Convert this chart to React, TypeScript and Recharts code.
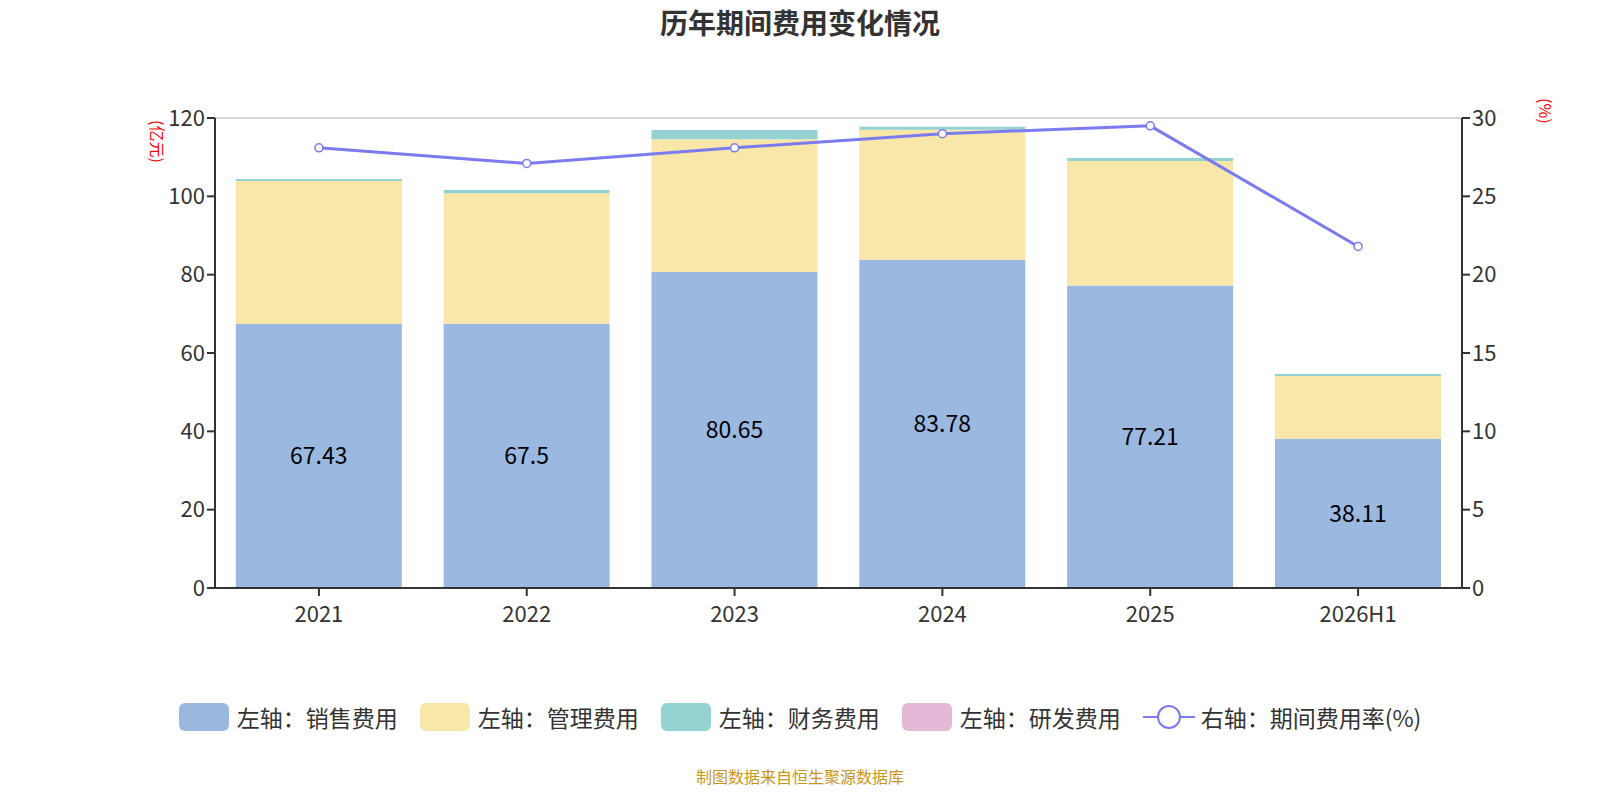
import { ComposedChart, Bar, Line, XAxis, YAxis, CartesianGrid, LabelList } from 'recharts';

const years = ['2021', '2022', '2023', '2024', '2025', '2026H1'];
const sales = [67.43, 67.5, 80.65, 83.78, 77.21, 38.11];
const admin = [36.5, 33.3, 33.9, 33.2, 31.8, 16.0];
const finance = [0.5, 0.8, 2.4, 0.8, 0.8, 0.5];
const rnd = [0, 0, 0, 0, 0, 0];
const rate = [28.1, 27.1, 28.1, 29.0, 29.5, 21.8];

const data = years.map((y, i) => ({
    year: y,
    sales: sales[i],
    admin: admin[i],
    finance: finance[i],
    rnd: rnd[i],
    rate: rate[i],
}));

const font = '"Noto Sans CJK SC", "Noto Sans", sans-serif';
const tick = { fill: '#333', fontSize: 22 };
const axisLine = { stroke: '#333', strokeWidth: 2 };

const legendItems = [
    { name: '左轴：销售费用', color: '#9bb8e1' },
    { name: '左轴：管理费用', color: '#f8e7a8' },
    { name: '左轴：财务费用', color: '#95d3d3' },
    { name: '左轴：研发费用', color: '#e6b8d8' },
];

export default function App() {
    return (
        <div style={{ position: 'fixed', left: 0, top: 0, width: 1600, height: 800, background: '#fff', fontFamily: font }}>
            <div style={{ position: 'absolute', top: 2, width: '100%', textAlign: 'center', fontSize: 28, fontWeight: 'bold', color: '#333' }}>
                历年期间费用变化情况
            </div>
            <div style={{ position: 'absolute', left: 146, top: 120, writingMode: 'vertical-rl', textOrientation: 'sideways', color: 'red', fontSize: 16 }}>(亿元)</div>
            <div style={{ position: 'absolute', left: 1534, top: 98, writingMode: 'vertical-rl', textOrientation: 'sideways', color: 'red', fontSize: 16 }}>(%)</div>
            <ComposedChart
                width={1600}
                height={800}
                data={data}
                margin={{ top: 118, right: 78, bottom: 182, left: 155 }}
                barCategoryGap="10%"
                style={{ fontFamily: font }}
            >
                <CartesianGrid vertical={false} stroke="#c8c8c8" strokeWidth={1.5} />
                <XAxis dataKey="year" tick={tick} tickMargin={10} height={30} axisLine={axisLine} tickLine={axisLine} tickSize={8} />
                <YAxis yAxisId="l" domain={[0, 120]} ticks={[0, 20, 40, 60, 80, 100, 120]} tick={tick} width={60} axisLine={axisLine} tickLine={axisLine} tickSize={8} />
                <YAxis yAxisId="r" orientation="right" domain={[0, 30]} ticks={[0, 5, 10, 15, 20, 25, 30]} tick={tick} width={60} axisLine={axisLine} tickLine={axisLine} tickSize={8} />
                <Bar yAxisId="l" dataKey="sales" stackId="a" fill="#9bb8e1" isAnimationActive={false}>
                    <LabelList dataKey="sales" position="center" fill="#000" fontSize={23} />
                </Bar>
                <Bar yAxisId="l" dataKey="admin" stackId="a" fill="#f8e7a8" isAnimationActive={false} />
                <Bar yAxisId="l" dataKey="finance" stackId="a" fill="#95d3d3" isAnimationActive={false} />
                <Bar yAxisId="l" dataKey="rnd" stackId="a" fill="#e6b8d8" isAnimationActive={false} />
                <Line
                    yAxisId="r"
                    dataKey="rate"
                    stroke="#7b7bf0"
                    strokeWidth={3}
                    dot={{ r: 4, fill: '#fff', stroke: '#7b7bf0', strokeWidth: 1.5 }}
                    isAnimationActive={false}
                />
            </ComposedChart>
            <div style={{ position: 'absolute', top: 700, width: '100%', display: 'flex', justifyContent: 'center', gap: 22, fontSize: 23, color: '#333' }}>
                {legendItems.map((it) => (
                    <div key={it.name} style={{ display: 'flex', alignItems: 'center' }}>
                        <span style={{ width: 50, height: 28, borderRadius: 6, background: it.color, marginRight: 8 }} />
                        {it.name}
                    </div>
                ))}
                <div style={{ display: 'flex', alignItems: 'center' }}>
                    <svg width={52} height={30} style={{ marginRight: 6 }}>
                        <line x1={0} y1={15} x2={52} y2={15} stroke="#7b7bf0" strokeWidth={2} />
                        <circle cx={26} cy={15} r={11} fill="#fff" stroke="#7b7bf0" strokeWidth={2} />
                    </svg>
                    右轴：期间费用率(%)
                </div>
            </div>
            <div style={{ position: 'absolute', top: 764, width: '100%', textAlign: 'center', fontSize: 16, color: '#c8961e' }}>
                制图数据来自恒生聚源数据库
            </div>
        </div>
    );
}
